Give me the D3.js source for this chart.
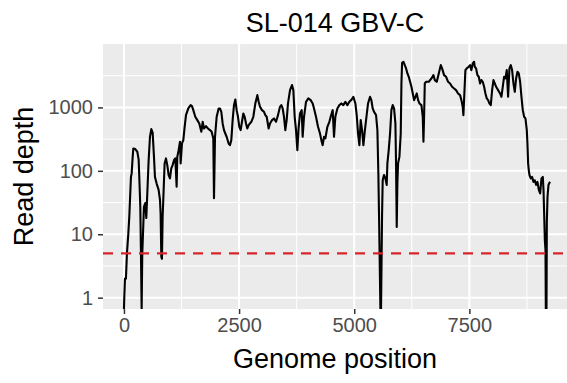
<!DOCTYPE html>
<html>
<head>
<meta charset="utf-8">
<script src="https://cdn.jsdelivr.net/npm/d3@7"></script>
<style>
  html, body { margin: 0; padding: 0; background: #ffffff; }
  svg { display: block; }
  text { font-family: "Liberation Sans", Arial, sans-serif; }
</style>
</head>
<body>
<div id="chart"></div>
<script>
// ---- Data ----
const title = "SL-014 GBV-C";
const xLabel = "Genome position";
const yLabel = "Read depth";
const xTicks = [0, 2500, 5000, 7500];
const xMinorTicks = [1250, 3750, 6250, 8750];
const yTicks = [1, 10, 100, 1000];
const yTickLabels = ["1", "10", "100", "1000"];
const yMinorTicks = [3.16, 31.6, 316, 3162];
const threshold = 5;

// genome position, read depth (0 = no coverage)
const positions = [
  0, 7, 22, 43, 65, 94, 116, 152, 167, 188, 203, 246, 290, 319, 333, 355, 369, 384, 398, 413,
  434, 463, 485, 507, 536, 565, 594, 623, 652, 673, 710, 753, 782, 796, 811, 825, 840, 854, 883, 912,
  941, 970, 999, 1028, 1057, 1086, 1115, 1144, 1158, 1187, 1216, 1231, 1260, 1289, 1318, 1347, 1397, 1448, 1477, 1506,
  1549, 1593, 1636, 1680, 1709, 1738, 1781, 1824, 1868, 1904, 1940, 1955, 1977, 2013, 2056, 2085, 2114, 2143, 2172, 2201,
  2230, 2273, 2302, 2331, 2360, 2389, 2418, 2447, 2476, 2505, 2534, 2563, 2592, 2621, 2650, 2679, 2708, 2737, 2766, 2809,
  2853, 2896, 2925, 2954, 2997, 3041, 3070, 3099, 3142, 3171, 3215, 3258, 3302, 3345, 3388, 3417, 3446, 3475, 3504, 3533,
  3562, 3606, 3649, 3678, 3707, 3736, 3765, 3794, 3823, 3859, 3880, 3910, 3953, 4004, 4054, 4098, 4127, 4170, 4214, 4257,
  4286, 4315, 4344, 4373, 4417, 4460, 4489, 4532, 4561, 4590, 4634, 4677, 4721, 4764, 4808, 4851, 4895, 4945, 4981, 5025,
  5054, 5083, 5112, 5141, 5170, 5199, 5228, 5257, 5300, 5343, 5372, 5401, 5430, 5474, 5503, 5524, 5539, 5553, 5568, 5582,
  5604, 5618, 5647, 5676, 5705, 5720, 5749, 5778, 5807, 5836, 5865, 5894, 5908, 5923, 5937, 5952, 5981, 6010, 6025, 6039,
  6068, 6097, 6126, 6155, 6184, 6213, 6242, 6271, 6300, 6329, 6358, 6387, 6416, 6459, 6488, 6503, 6517, 6532, 6561, 6619,
  6677, 6720, 6749, 6792, 6836, 6879, 6908, 6951, 6995, 7038, 7081, 7125, 7168, 7211, 7255, 7298, 7327, 7356, 7370, 7385,
  7414, 7443, 7486, 7515, 7544, 7573, 7602, 7617, 7646, 7675, 7704, 7733, 7762, 7791, 7820, 7849, 7878, 7907, 7935, 7965,
  7994, 8023, 8052, 8081, 8124, 8167, 8196, 8225, 8254, 8283, 8312, 8341, 8370, 8399, 8428, 8457, 8486, 8515, 8544, 8573,
  8602, 8631, 8660, 8689, 8718, 8747, 8761, 8776, 8790, 8805, 8834, 8863, 8892, 8921, 8950, 8979, 9008, 9037, 9066, 9095,
  9110, 9124, 9139, 9153, 9160, 9175, 9182, 9197, 9218, 9240, 9254
];
const depths = [
  0, 1.0, 2.0, 2.0, 5, 10, 19, 80, 91, 160, 225, 220, 200, 150, 80, 27, 5, 0, 5, 10,
  27, 31, 18, 44, 147, 344, 455, 400, 166, 80, 63, 50, 35, 21, 4.4, 4.1, 19, 35, 131, 157,
  123, 86, 76, 109, 123, 147, 157, 56, 166, 212, 287, 131, 270, 305, 495, 756, 963, 1087, 1049, 906,
  712, 631, 559, 413, 594, 466, 507, 466, 439, 413, 324, 37, 344, 712, 963, 963, 853, 559, 439, 388,
  344, 270, 254, 305, 631, 1087, 1335, 906, 712, 495, 439, 594, 803, 712, 559, 466, 526, 559, 594, 712,
  1155, 1563, 1227, 1023, 906, 853, 756, 712, 466, 559, 631, 670, 594, 756, 1023, 1087, 963, 712, 439, 631,
  1155, 1875, 2249, 1875, 712, 439, 212, 495, 803, 906, 344, 712, 1227, 1385, 1303, 1155, 963, 712, 495, 388,
  305, 254, 344, 324, 495, 594, 712, 906, 344, 712, 963, 1087, 1155, 1087, 1227, 1087, 1227, 1335, 1472, 1155,
  756, 388, 254, 631, 439, 254, 413, 631, 1155, 1472, 1303, 963, 853, 756, 439, 91, 19, 3.9, 0, 0,
  19, 71, 86, 76, 60, 131, 212, 388, 906, 1087, 963, 559, 131, 13, 63, 131, 166, 388, 2388, 5058,
  5248, 4645, 4120, 3435, 3043, 2537, 2115, 1660, 1303, 1472, 1660, 1303, 1155, 1087, 712, 287, 712, 2388, 2537, 2537,
  2865, 3234, 2698, 2537, 3435, 4645, 4120, 3234, 3043, 2537, 2388, 2115, 1991, 1875, 1660, 1563, 1303, 1023, 756, 1303,
  3875, 4120, 4375, 4645, 3875, 4943, 5248, 4375, 4120, 3234, 3043, 2388, 2698, 2537, 2115, 1660, 1385, 1303, 1155, 1087,
  1875, 2698, 2388, 2115, 1875, 1660, 1472, 2115, 3043, 2865, 3875, 1472, 4120, 4645, 3875, 2388, 1765, 2865, 3648, 3435,
  2537, 1472, 906, 712, 670, 439, 270, 131, 103, 86, 76, 80, 67, 71, 60, 67, 50, 44, 76, 80,
  50, 21, 8.1, 5.6, 0, 0, 15, 39, 60, 65, 67
];

// ---- Layout ----
const W = 567, H = 383;
const panel = { left: 103, right: 567, top: 44, bottom: 309 };

const svg = d3.select("#chart").append("svg")
  .attr("width", W).attr("height", H)
  .attr("viewBox", `0 0 ${W} ${H}`);

const x = d3.scaleLinear().domain([-455, 9620]).range([panel.left, panel.right]);
const y = d3.scaleLog().domain([0.663, 10000]).range([panel.bottom, panel.top]);

// panel background
svg.append("rect")
  .attr("x", panel.left).attr("y", panel.top)
  .attr("width", panel.right - panel.left).attr("height", panel.bottom - panel.top)
  .attr("fill", "#EBEBEB");

const grid = svg.append("g");
// minor grid
grid.selectAll("line.xminor").data(xMinorTicks).join("line")
  .attr("class", "xminor")
  .attr("x1", d => x(d)).attr("x2", d => x(d))
  .attr("y1", panel.top).attr("y2", panel.bottom)
  .attr("stroke", "#ffffff").attr("stroke-width", 1);
grid.selectAll("line.yminor").data(yMinorTicks).join("line")
  .attr("class", "yminor")
  .attr("x1", panel.left).attr("x2", panel.right)
  .attr("y1", d => y(d)).attr("y2", d => y(d))
  .attr("stroke", "#ffffff").attr("stroke-width", 1);
// major grid
grid.selectAll("line.xmajor").data(xTicks).join("line")
  .attr("class", "xmajor")
  .attr("x1", d => x(d)).attr("x2", d => x(d))
  .attr("y1", panel.top).attr("y2", panel.bottom)
  .attr("stroke", "#ffffff").attr("stroke-width", 2);
grid.selectAll("line.ymajor").data(yTicks).join("line")
  .attr("class", "ymajor")
  .attr("x1", panel.left).attr("x2", panel.right)
  .attr("y1", d => y(d)).attr("y2", d => y(d))
  .attr("stroke", "#ffffff").attr("stroke-width", 2);

// clip
svg.append("clipPath").attr("id", "clip")
  .append("rect")
  .attr("x", panel.left).attr("y", panel.top)
  .attr("width", panel.right - panel.left).attr("height", panel.bottom - panel.top);

const data = positions.map((p, i) => ({ p, d: depths[i] }));
const line = d3.line()
  .x(d => x(d.p))
  .y(d => d.d > 0 ? y(d.d) : y.range()[0]);

svg.append("path")
  .datum(data)
  .attr("clip-path", "url(#clip)")
  .attr("d", line)
  .attr("fill", "none")
  .attr("stroke", "#000000")
  .attr("stroke-width", 2.1)
  .attr("stroke-linejoin", "round");

// threshold line
svg.append("line")
  .attr("x1", panel.left).attr("x2", panel.right)
  .attr("y1", y(threshold)).attr("y2", y(threshold))
  .attr("stroke", "#D7262B").attr("stroke-width", 2.4)
  .attr("stroke-dasharray", "10,8");

// axes
const xAxis = d3.axisBottom(x).tickValues(xTicks).tickSize(5).tickPadding(4).tickFormat(d3.format("d"));
const gx = svg.append("g").attr("transform", `translate(0,${panel.bottom})`).call(xAxis);
gx.select(".domain").remove();
gx.selectAll(".tick line").attr("stroke", "#333333").attr("stroke-width", 1.5);
gx.selectAll(".tick text").attr("fill", "#4D4D4D").attr("font-size", 20)
  .attr("font-family", '"Liberation Sans", Arial, sans-serif');

const yAxis = d3.axisLeft(y).tickValues(yTicks).tickSize(5).tickPadding(5)
  .tickFormat((d, i) => yTickLabels[i]);
const gy = svg.append("g").attr("transform", `translate(${panel.left},0)`).call(yAxis);
gy.select(".domain").remove();
gy.selectAll(".tick line").attr("stroke", "#333333").attr("stroke-width", 1.5);
gy.selectAll(".tick text").attr("fill", "#4D4D4D").attr("font-size", 20)
  .attr("font-family", '"Liberation Sans", Arial, sans-serif');

// titles
svg.append("text")
  .attr("x", (panel.left + panel.right) / 2).attr("y", 31.5)
  .attr("text-anchor", "middle").attr("font-size", 27).attr("fill", "#000")
  .text(title);
svg.append("text")
  .attr("x", (panel.left + panel.right) / 2).attr("y", 368)
  .attr("text-anchor", "middle").attr("font-size", 27).attr("fill", "#000")
  .text(xLabel);
svg.append("text")
  .attr("transform", `translate(33,${(panel.top + panel.bottom) / 2}) rotate(-90)`)
  .attr("text-anchor", "middle").attr("font-size", 27).attr("fill", "#000")
  .text(yLabel);
</script>
</body>
</html>
